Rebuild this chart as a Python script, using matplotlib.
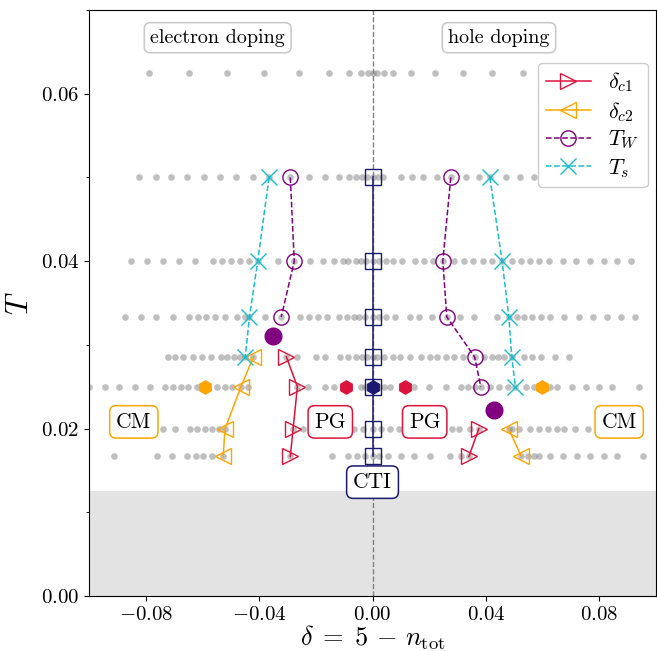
"""
Phase diagram in the doping-temperature plane: crossover lines, critical
dopings and the scanned (delta, T) grid
"""

#---------------------------------------------------------------------------------------------------
# Import Modules
#---------------------------------------------------------------------------------------------------

import matplotlib.pyplot as plt
import matplotlib.ticker as mticker


#---------------------------------------------------------------------------------------------------
# Input Parameters
#---------------------------------------------------------------------------------------------------

# Simulated temperatures (rows of the grid)
temps = [1/16, 1/20, 1/25, 1/30, 1/35, 1/40, 1/50, 1/60]

# Dopings simulated at each temperature
grid_delta = {
    1/16: [-0.0787, -0.0647, -0.0514, -0.0383, -0.026, -0.0155, -0.0082, -0.0041, -0.0015, 0.0,
           0.0017, 0.0042, 0.0074, 0.0136, 0.0222, 0.0318, 0.0423, 0.0531, 0.065, 0.076, 0.096],
    1/20: [-0.0823, -0.0765, -0.071, -0.0654, -0.0596, -0.0538, -0.0481, -0.0423, -0.0365, -0.029,
           -0.0224, -0.0168, -0.0118, -0.0083, -0.006, -0.0038, -0.0018, 0.0, 0.002, 0.0036, 0.01,
           0.0138, 0.0177, 0.0226, 0.0276, 0.033, 0.0376, 0.0414, 0.047, 0.052, 0.0568, 0.0613,
           0.0664, 0.0709, 0.0895],
    1/25: [-0.0853, -0.0797, -0.074, -0.0682, -0.0627, -0.0563, -0.0531, -0.0499, -0.0467, -0.0435,
           -0.0405, -0.0332, -0.0276, -0.0222, -0.0173, -0.0137, -0.0105, -0.0086, -0.006, -0.0041,
           -0.0022, 0.0, 0.0023, 0.0049, 0.0074, 0.0103, 0.0151, 0.0183, 0.0215, 0.0248, 0.0286,
           0.0324, 0.0356, 0.0388, 0.042, 0.0457, 0.0491, 0.0523, 0.0555, 0.0587, 0.0623, 0.0671,
           0.0719, 0.0767, 0.0815, 0.0863, 0.0912],
    1/30: [-0.0874, -0.0817, -0.0762, -0.0705, -0.0646, -0.0614, -0.0586, -0.0554, -0.0522, -0.0477,
           -0.0451, -0.0434, -0.0381, -0.0322, -0.0255, -0.0224, -0.0192, -0.0159, -0.0118, -0.009,
           -0.0067, -0.0047, -0.0028, 0.0, 0.0023, 0.0049, 0.0078, 0.0132, 0.0164, 0.0209, 0.0262,
           0.0309, 0.0359, 0.044, 0.0481, 0.051, 0.0536, 0.0564, 0.0594, 0.0626, 0.0677, 0.0728,
           0.0779, 0.0828, 0.0876, 0.0927],
    1/35: [-0.0723, -0.0695, -0.0667, -0.0633, -0.0603, -0.0569, -0.0535, -0.0512, -0.049, -0.0467,
           -0.0449, -0.042, -0.0304, -0.0265, -0.0201, -0.0167, -0.0115, -0.0086, -0.006, -0.0038,
           -0.0018, 0.0, 0.0017, 0.0042, 0.0072, 0.0097, 0.0132, 0.0171, 0.0203, 0.0228, 0.026,
           0.0286, 0.0318, 0.036, 0.0395, 0.042, 0.0444, 0.0465, 0.0491, 0.0536, 0.0564, 0.0594,
           0.0645, 0.0694],
    1/40: [-0.1, -0.0945, -0.0894, -0.0838, -0.0785, -0.0731, -0.0705, -0.0676, -0.065, -0.0618,
           -0.0547, -0.0522, -0.0496, -0.0464, -0.0438, -0.0265, -0.0227, -0.0169, -0.0137,
           -0.0041, -0.0026, 0.0, 0.0023, 0.0042, 0.0062, 0.0147, 0.0199, 0.026, 0.0312, 0.0337,
           0.0363, 0.0382, 0.0414, 0.0446, 0.0478, 0.0504, 0.0542, 0.0568, 0.0626, 0.0651, 0.0703,
           0.0754, 0.0799, 0.0844, 0.094],
    1/50: [-0.0906, -0.0874, -0.0836, -0.0785, -0.074, -0.0695, -0.0644, -0.0618, -0.0592, -0.0567,
           -0.0541, -0.052, -0.028, -0.0246, -0.0214, -0.0067, -0.0035, 0.0, 0.003, 0.0062,
           0.0094, 0.028, 0.0305, 0.0344, 0.0375, 0.048, 0.0491, 0.0517, 0.0555, 0.0587, 0.0619,
           0.0651, 0.0677, 0.0715, 0.076],
    1/60: [-0.0913, -0.0759, -0.0708, -0.0656, -0.0624, -0.0599, -0.0567, -0.0527, -0.029, -0.0144,
           -0.0086, -0.0054, -0.0028, 0.0, 0.0023, 0.0055, 0.01, 0.0145, 0.0203, 0.0273, 0.0312,
           0.034, 0.0525, 0.0549, 0.0568, 0.0587, 0.0626, 0.0671, 0.0722, 0.0767, 0.0818, 0.0863,
           0.0953],
}

# Critical dopings delta_c1 (electron / hole side)
dc1_T_e = [1/35, 1/40, 1/50, 1/60]
dc1_e = [-0.0304, -0.0265, -0.028, -0.029]
dc1_T_h = [1/50, 1/60]
dc1_h = [0.0375, 0.034]

# Critical dopings delta_c2
dc2_T_e = [1/35, 1/40, 1/50, 1/60]
dc2_e = [-0.042, -0.0464, -0.052, -0.0527]
dc2_T_h = [1/50, 1/60]
dc2_h = [0.048, 0.0525]

# Widom line T_W
tw_T_e = [1/20, 1/25, 1/30]
tw_e = [-0.029, -0.0276, -0.0322]
tw_T_h = [1/20, 1/25, 1/30, 1/35, 1/40]
tw_h = [0.0276, 0.0248, 0.0262, 0.036, 0.0382]

# Crossover T_s
ts_T_e = [1/20, 1/25, 1/30, 1/35]
ts_e = [-0.0365, -0.0405, -0.0434, -0.0449]
ts_T_h = [1/20, 1/25, 1/30, 1/35, 1/40]
ts_h = [0.0414, 0.0457, 0.0481, 0.0491, 0.0504]

# Charge transfer insulator at half filling
cti_T = [1/20, 1/25, 1/30, 1/35, 1/40, 1/50, 1/60]

# Critical endpoints and special dopings at T = 1/40
cep_delta = [-0.035, 0.0428]
cep_T = [0.0311, 0.0222]
cm_hex = [-0.059, 0.0597]
pg_hex = [-0.0095, 0.0113]
T_hex = 1/40

# Lowest temperature reached
T_min = 1/80

out_fname = 'out.png'


#---------------------------------------------------------------------------------------------------
# Main Program
#---------------------------------------------------------------------------------------------------

plt.rcParams['font.family'] = 'serif'
plt.rcParams['font.serif'] = ['cmr10']
plt.rcParams['mathtext.fontset'] = 'cm'
plt.rcParams['axes.formatter.use_mathtext'] = True

c_red = 'crimson'
c_orange = 'orange'
c_purple = 'purple'
c_cyan = '#17becf'
c_navy = 'midnightblue'

fig = plt.figure(figsize=(6.57, 6.51), dpi=100)
ax = fig.add_axes([0.1355, 0.0845, 0.863, 0.9])

# Inaccessible low-temperature region
ax.axhspan(0, T_min, color='#e3e3e3', lw=0, zorder=0)
ax.axvline(0, color='gray', ls='--', lw=1, zorder=1)

# Simulated grid
for T in temps:
    ax.plot(grid_delta[T], [T] * len(grid_delta[T]), 'o', c='gray', alpha=0.5, ms=4.8,
            mew=0, zorder=2)

# Half filling
ax.plot([0] * len(cti_T), cti_T, 's-', c=c_navy, mfc='none', ms=11, lw=1.1, zorder=3)

# Crossover lines
mk = dict(mfc='none', ms=11, lw=1.1, zorder=4)
ax.plot(dc1_e, dc1_T_e, '>-', c=c_red, label=r'$\delta_{c1}$', **mk)
ax.plot(dc1_h, dc1_T_h, '>-', c=c_red, **mk)
ax.plot(dc2_e, dc2_T_e, '<-', c=c_orange, label=r'$\delta_{c2}$', **mk)
ax.plot(dc2_h, dc2_T_h, '<-', c=c_orange, **mk)
ax.plot(tw_e, tw_T_e, 'o--', c=c_purple, label=r'$T_W$', **mk)
ax.plot(tw_h, tw_T_h, 'o--', c=c_purple, **mk)
ax.plot(ts_e, ts_T_e, 'x--', c=c_cyan, label=r'$T_s$', **mk)
ax.plot(ts_h, ts_T_h, 'x--', c=c_cyan, **mk)

# Endpoints and special points
ax.plot(cep_delta, cep_T, 'o', c=c_purple, ms=12, zorder=5)
ax.plot(cm_hex, [T_hex] * 2, 'h', c=c_orange, ms=9.5, zorder=5)
ax.plot(pg_hex, [T_hex] * 2, 'h', c=c_red, ms=9.5, zorder=5)
ax.plot([0], [T_hex], 'h', c=c_navy, ms=9.5, zorder=5)

# Region labels
def boxed(x, y, s, ec, size=15.5):
    ax.text(x, y, s, ha='center', va='center', size=size, zorder=6,
            bbox=dict(boxstyle='round,pad=0.3', fc='white', ec=ec, lw=1.1))

boxed(-0.0546, 0.0667, 'electron doping', '#c8c8c8', size=14.5)
boxed(0.0446, 0.0667, 'hole doping', '#c8c8c8', size=14.5)
boxed(-0.0842, 0.0208, 'CM', c_orange)
boxed(-0.0149, 0.0208, 'PG', c_red)
boxed(0.0184, 0.0208, 'PG', c_red)
boxed(0.0870, 0.0208, 'CM', c_orange)
boxed(0.0, 0.0136, 'CTI', c_navy)

# Plot formatting
tick_fmt = mticker.FuncFormatter(lambda x, pos: rf'${x:.2f}$')
ax.set_xlim(-0.1, 0.1)
ax.set_ylim(0, 0.07)
ax.xaxis.set_major_locator(mticker.MultipleLocator(0.04))
ax.xaxis.set_major_formatter(tick_fmt)
ax.yaxis.set_major_locator(mticker.MultipleLocator(0.02))
ax.yaxis.set_minor_locator(mticker.MultipleLocator(0.01))
ax.yaxis.set_major_formatter(tick_fmt)
ax.tick_params(axis='both', which='major', labelsize=15)
ax.set_xlabel(r'$\delta\;=\;5\,-\,n_{\rm tot}$', size=19, labelpad=0)
ax.set_ylabel(r'$T$', size=22, labelpad=5)

ax.legend(loc='upper right', bbox_to_anchor=(0.985, 0.91), borderaxespad=0, fontsize=16,
          handlelength=2.0, labelspacing=0.25, borderpad=0.35, framealpha=1)

plt.savefig(out_fname, dpi=100)
plt.close()
